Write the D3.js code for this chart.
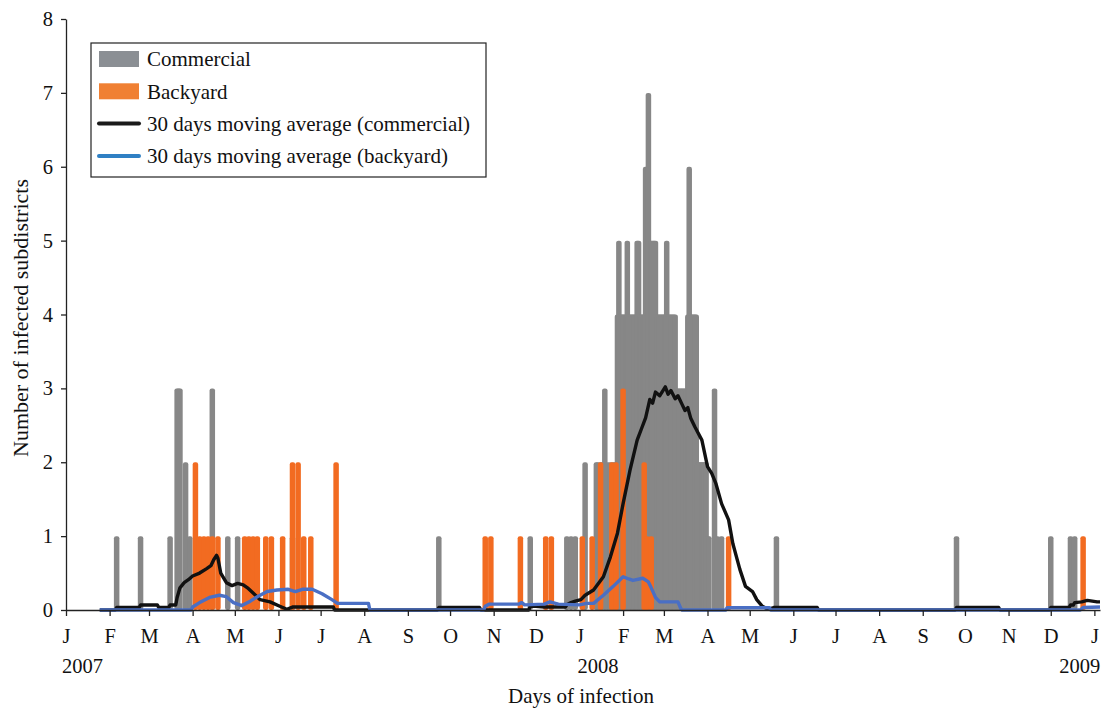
<!DOCTYPE html>
<html>
<head>
<meta charset="utf-8">
<script src="https://cdn.jsdelivr.net/npm/d3@7"></script>
<style>
  body { margin: 0; background: #fff; }
  svg text { font-family: "Liberation Serif", "Times New Roman", serif; fill: #111; }
</style>
</head>
<body>
<div id="chart"></div>
<script>
// day numbers counted from 1 Jan 2007, values = infected subdistricts
var commercial = [
  [36, 1], [53, 1], [74, 1], [79, 3], [80, 3], [81, 3], [85, 2], [88, 1], [104, 3], [115, 1], [122, 1], [161, 1],
  [265, 1], [330, 1], [356, 1], [359, 1], [362, 1], [369, 2], [377, 2], [378, 2], [380, 2], [381, 2], [383, 3],
  [385, 2], [387, 2], [389, 2], [390, 2], [392, 4], [393, 5], [394, 4], [395, 4], [396, 4], [397, 4], [398, 4],
  [399, 5], [400, 4], [401, 4], [402, 4], [403, 4], [404, 4], [405, 4], [406, 5], [407, 5], [408, 4], [409, 4],
  [410, 4], [411, 4], [412, 6], [413, 4], [414, 7], [415, 5], [416, 5], [417, 5], [418, 5], [419, 5], [420, 4],
  [421, 4], [422, 4], [423, 4], [424, 4], [425, 4], [426, 4], [427, 5], [428, 4], [429, 4], [430, 4], [431, 4],
  [432, 4], [433, 4], [434, 3], [435, 3], [436, 3], [437, 3], [438, 3], [439, 3], [440, 3], [441, 3], [442, 4],
  [443, 6], [444, 4], [445, 4], [446, 4], [447, 4], [448, 4], [449, 2], [450, 2], [451, 2], [452, 2], [453, 2],
  [454, 2], [455, 2], [456, 1], [457, 1], [461, 3], [463, 1], [466, 1],
  [505, 1], [633, 1], [700, 1], [714, 1], [717, 1]
];

var backyard = [
  [92, 2], [95, 1], [98, 1], [101, 1], [104, 1], [108, 1], [127, 1], [130, 1], [133, 1], [136, 1],
  [142, 1], [146, 1], [154, 1], [161, 2], [165, 2], [169, 1], [174, 1], [192, 2],
  [298, 1], [302, 1], [323, 1], [341, 1], [345, 1], [367, 1], [374, 1], [380, 2], [388, 2], [391, 2],
  [396, 3], [411, 2], [413, 1], [416, 1], [471, 1], [723, 1]
];

// 30 days moving averages
var maCommercial = [
  [24, 0], [35, 0], [36, 0.033], [52, 0.033], [53, 0.067], [65, 0.067], [66, 0.033], [73, 0.033], [74, 0.067],
  [78, 0.067], [79, 0.17], [81, 0.3], [84, 0.37], [87, 0.41], [90, 0.46], [95, 0.5], [100, 0.56], [103, 0.6],
  [105, 0.68], [107, 0.74], [108, 0.7], [110, 0.5], [114, 0.37], [118, 0.33], [122, 0.36], [126, 0.34],
  [129, 0.3], [133, 0.23], [138, 0.14], [145, 0.11], [152, 0.05], [157, 0.01], [161, 0.04], [190, 0.04], [191, 0],
  [264, 0], [265, 0.033], [294, 0.033], [295, 0],
  [329, 0], [330, 0.05], [334, 0.05], [340, 0.04], [355, 0.04], [356, 0.07], [359, 0.1], [362, 0.12],
  [366, 0.14], [369, 0.2], [375, 0.27], [382, 0.45], [387, 0.72], [392, 1.04], [396, 1.44], [401, 1.9],
  [406, 2.3], [409, 2.45], [412, 2.6], [415, 2.85], [417, 2.8], [419, 2.95], [422, 2.9], [424, 2.96],
  [426, 3.02], [428, 2.92], [430, 2.97], [433, 2.86], [435, 2.9], [438, 2.78], [440, 2.7], [442, 2.74],
  [444, 2.6], [447, 2.48], [452, 2.3], [456, 1.94], [459, 1.85], [462, 1.71], [466, 1.44], [471, 1.22],
  [474, 0.9], [479, 0.55], [483, 0.32], [488, 0.25], [491, 0.14], [495, 0.05], [499, 0.01], [503, 0.033],
  [534, 0.033], [535, 0],
  [632, 0], [633, 0.033], [663, 0.033], [664, 0],
  [699, 0], [700, 0.033], [713, 0.033], [714, 0.067], [716, 0.067], [717, 0.1], [722, 0.11], [726, 0.13],
  [733, 0.11], [735, 0.11]
];

var maBackyard = [
  [24, 0], [89, 0], [90, 0.04], [95, 0.1], [102, 0.17], [109, 0.2], [114, 0.18], [119, 0.1], [125, 0.06],
  [131, 0.12], [136, 0.18], [143, 0.25], [150, 0.27], [158, 0.28], [163, 0.25], [168, 0.28], [175, 0.28],
  [182, 0.22], [189, 0.14], [193, 0.09], [215, 0.09], [216, 0],
  [297, 0], [298, 0.05], [301, 0.08], [322, 0.08], [324, 0.1], [326, 0.07], [340, 0.08], [344, 0.11],
  [350, 0.08], [365, 0.07], [370, 0.09], [375, 0.09], [382, 0.2], [389, 0.32], [396, 0.45], [400, 0.42],
  [403, 0.4], [410, 0.43], [414, 0.38], [416, 0.3], [419, 0.17], [422, 0.11], [435, 0.11], [437, 0.02],
  [438, 0], [469, 0], [470, 0.03], [500, 0.03], [501, 0], [721, 0], [723, 0.033], [735, 0.04]
];

var monthLabels = ["J", "F", "M", "A", "M", "J", "J", "A", "S", "O", "N", "D"];
var yearLabels = ["2007", "2008", "2009"];
var yTicks = [0, 1, 2, 3, 4, 5, 6, 7, 8];
var legendItems = ["Commercial", "Backyard", "30 days moving average (commercial)", "30 days moving average (backyard)"];

var width = 1104,
  height = 708;

var startDate = new Date(2007, 0, 1);
var endDate = new Date(2009, 0, 5);
function dayToDate(d) {
  return d3.timeDay.offset(startDate, d);
}

var svg = d3.select('#chart')
  .append('svg')
  .attr('width', width)
  .attr('height', height)

var x = d3.scaleTime().domain([startDate, endDate]).range([66, 1100]);
var y = d3.scaleLinear().domain([0, 8]).range([610, 19]);

var barWidth = 5.5;

function drawBars(data, color) {
  svg.append('g')
    .selectAll('rect')
    .data(data)
    .join('rect')
    .attr('x', d => x(dayToDate(d[0])) - barWidth / 2)
    .attr('width', barWidth)
    .attr('y', d => y(d[1]))
    .attr('height', d => y(0) - y(d[1]))
    .attr('rx', 2.2)
    .attr('fill', color)
}

drawBars(commercial, '#878787');
drawBars(backyard, '#f26b21');

var line = d3.line()
  .x(d => x(dayToDate(d[0])))
  .y(d => y(d[1]));

svg.append('path')
  .datum(maCommercial)
  .attr('d', line)
  .attr('fill', 'none')
  .attr('stroke', '#111')
  .attr('stroke-width', 3.4)
  .attr('stroke-linejoin', 'round')

svg.append('path')
  .datum(maBackyard)
  .attr('d', line)
  .attr('fill', 'none')
  .attr('stroke', '#4a6fc4')
  .attr('stroke-width', 3.4)
  .attr('stroke-linejoin', 'round')

// axes
var xAxis = d3.axisBottom(x)
  .ticks(d3.timeMonth.every(1))
  .tickSize(6)
  .tickSizeOuter(0)
  .tickPadding(12)
  .tickFormat(d => monthLabels[d.getMonth()]);

var gx = svg.append('g')
  .attr('transform', 'translate(0,' + y(0) + ')')
  .call(xAxis)
gx.selectAll('text').style('font-size', '20.5px')

var yAxis = d3.axisLeft(y)
  .tickValues(yTicks)
  .tickSize(5)
  .tickSizeOuter(0)
  .tickPadding(8);

var gy = svg.append('g')
  .attr('transform', 'translate(66,0)')
  .call(yAxis)
gy.selectAll('text').style('font-size', '20.5px')

svg.selectAll('.domain, .tick line')
  .attr('stroke', '#222')
  .attr('stroke-width', 1.3)

// year labels under January ticks
var yearDates = yearLabels.map(s => new Date(+s, 0, 1));
svg.selectAll('.year')
  .data(yearLabels)
  .join('text')
  .attr('class', 'year')
  .attr('x', (d, i) => x(yearDates[i]) + (i == 0 ? -4 : (i == 1 ? -2 : 6)))
  .attr('y', 673)
  .attr('text-anchor', (d, i) => i == 2 ? 'end' : 'start')
  .style('font-size', '20.5px')
  .text(d => d)

svg.append('text')
  .attr('x', 581)
  .attr('y', 703)
  .attr('text-anchor', 'middle')
  .style('font-size', '21px')
  .text('Days of infection')

svg.append('text')
  .attr('transform', 'translate(28,318) rotate(-90)')
  .attr('text-anchor', 'middle')
  .style('font-size', '22px')
  .text('Number of infected subdistricts')

// legend
var legend = svg.append('g')

legend.append('rect')
  .attr('x', 91)
  .attr('y', 43)
  .attr('width', 395)
  .attr('height', 134)
  .attr('fill', '#fff')
  .attr('stroke', '#222')
  .attr('stroke-width', 1.2)

var legendColors = ['#8b8f94', '#f08033', '#1a1a1a', '#2f80c4'];
var rowY = d => 59 + d * 32.3;

legendItems.forEach(function (label, i) {
  if (i < 2) {
    legend.append('rect')
      .attr('x', 99)
      .attr('y', rowY(i) - 8)
      .attr('width', 40)
      .attr('height', 16)
      .attr('fill', legendColors[i])
  } else {
    legend.append('line')
      .attr('x1', 99)
      .attr('x2', 139)
      .attr('y1', rowY(i))
      .attr('y2', rowY(i))
      .attr('stroke', legendColors[i])
      .attr('stroke-width', 4)
      .attr('stroke-linecap', 'round')
  }
  legend.append('text')
    .attr('x', 147)
    .attr('y', rowY(i))
    .attr('dy', '0.35em')
    .style('font-size', '21px')
    .text(label)
});
</script>
</body>
</html>
